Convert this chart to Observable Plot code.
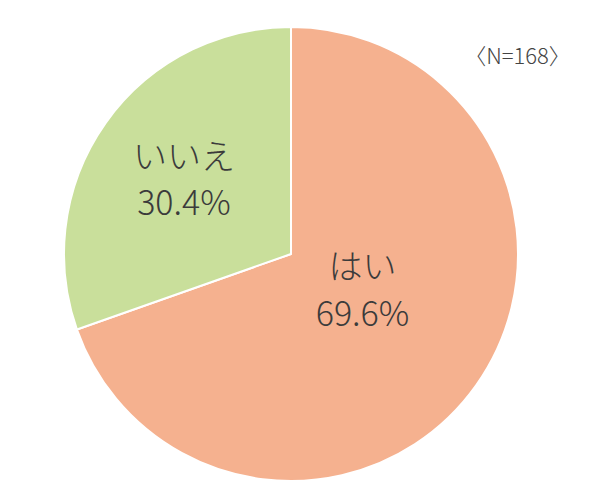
<!DOCTYPE html>
<html><head><meta charset="utf-8">
<script src="https://cdn.jsdelivr.net/npm/d3@7"></script>
<script src="https://cdn.jsdelivr.net/npm/@observablehq/plot@0.6"></script>
<style>body{margin:0;background:#fff;} #chart{position:relative;width:600px;height:503px;}</style>
</head><body><div id="chart"></div>
<script>
const categories = ["はい", "いいえ"];
const values = [69.6, 30.4];
const colors = ["#F5B18F", "#C9DF9B"];
const note = "〈N=168〉";

const W = 600, H = 503, cx = 291, cy = 254, R = 227;
const pie = d3.pie().sort(null).value(d => d.value);
const slices = pie(categories.map((c, i) => ({name: c, value: values[i], color: colors[i]})));
// label placement (style): angle in radians & radius fraction
const labelStyle = {"はい": {a: 2.006, f: 0.345}, "いいえ": {a: 5.337, f: 0.584}};
const labels = slices.map(s => {
  const st = labelStyle[s.data.name];
  return {x: st.f * Math.sin(st.a), y: st.f * Math.cos(st.a), text: s.data.name + "\n" + s.data.value.toFixed(1) + "%"};
});

const pieMark = (data) => Plot.dot(data, {x: () => 0, y: () => 0, render: (index, scales, values, dims, context) => {
  const {x, y} = scales;
  const r = x(1) - x(0);
  const arc = d3.arc().innerRadius(0).outerRadius(r);
  const g = d3.create("svg:g").attr("transform", `translate(${x(0)},${y(0)})`);
  g.selectAll("path").data(data).join("path")
    .attr("d", arc).attr("fill", d => d.data.color)
    .attr("stroke", "#fff").attr("stroke-width", 2).attr("stroke-linejoin", "round");
  return g.node();
}});

const plot = Plot.plot({
  width: W, height: H, margin: 0,
  x: {domain: [-cx / R, (W - cx) / R], axis: null},
  y: {domain: [-(H - cy) / R, cy / R], axis: null},
  style: {fontFamily: "'Noto Sans CJK JP', 'Noto Sans', sans-serif", background: "#fff"},
  marks: [
    pieMark(slices),
    Plot.text(labels, {x: "x", y: "y", text: "text", fontSize: 34, fontWeight: 300, lineHeight: 1.38, fill: "#3b3b3b"}),
    Plot.text([note], {x: () => (517 - cx) / R, y: () => (cy - 56) / R, text: d => d, fontSize: 22, fontWeight: 300, fill: "#444"})
  ]
});
document.getElementById("chart").appendChild(plot);
</script></body></html>
